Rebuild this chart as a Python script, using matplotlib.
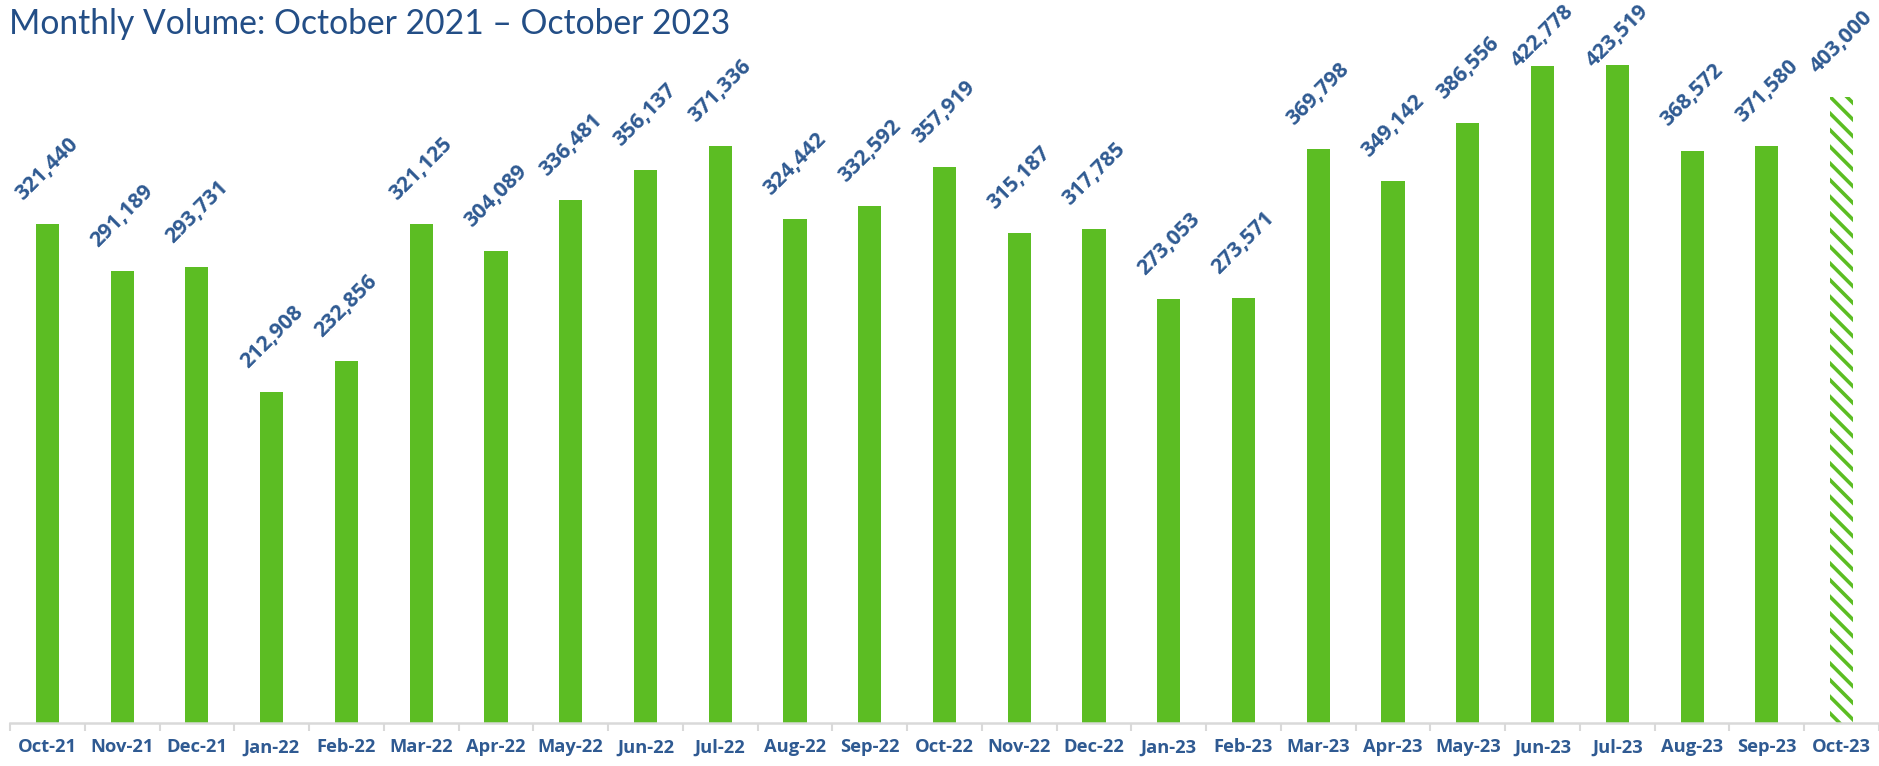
import matplotlib
matplotlib.use("Agg")
import matplotlib.pyplot as plt
import numpy as np

months = ["Oct-21", "Nov-21", "Dec-21", "Jan-22", "Feb-22", "Mar-22", "Apr-22", "May-22",
          "Jun-22", "Jul-22", "Aug-22", "Sep-22", "Oct-22", "Nov-22", "Dec-22", "Jan-23",
          "Feb-23", "Mar-23", "Apr-23", "May-23", "Jun-23", "Jul-23", "Aug-23", "Sep-23",
          "Oct-23"]
volumes = [321440, 291189, 293731, 212908, 232856, 321125, 304089, 336481, 356137, 371336,
           324442, 332592, 357919, 315187, 317785, 273053, 273571, 369798, 349142, 386556,
           422778, 423519, 368572, 371580, 403000]
projected = [False] * 24 + [True]
title = "Monthly Volume: October 2021 \u2013 October 2023"

GREEN = "#5CBD23"
LBLUE = "#2F5A92"
TBLUE = "#234E86"
W, H = 1879, 766

title_font = ["Lato"]
lab_font = ["Open Sans"]

plt.rcParams["hatch.linewidth"] = 2.6
fig = plt.figure(figsize=(W / 100, H / 100), dpi=100)
ax = fig.add_axes([10 / W, (H - 723) / H, (W - 10) / W, 723 / H])
renderer = fig.canvas.get_renderer()


def fit_size(text, target_px, **kw):
    t = fig.text(0, 0, text, fontsize=20, **kw)
    w = t.get_window_extent(renderer).width
    t.remove()
    return 20 * target_px / w


lab_fs = fit_size("371,580", 79, family=lab_font, fontweight="bold")
tick_fs = fit_size("Oct-21", 59, family=lab_font, fontweight="bold")

x = np.arange(len(months))
ax.set_xlim(-0.5, len(months) - 0.5)
ax.set_ylim(0, 465500)

for xi, v, p in zip(x, volumes, projected):
    if p:
        ax.bar(xi, v, width=0.31, color="white", edgecolor=GREEN, hatch="\\\\", linewidth=0)
    else:
        ax.bar(xi, v, width=0.31, color=GREEN, linewidth=0)
    top_px = H - ax.transData.transform((xi, v))[1]  # distance from figure top
    off_px = min(55, top_px - 36)
    ax.annotate(f"{v:,}", (xi, v), xytext=(0, off_px * 0.72), textcoords="offset points",
                rotation=45, ha="center", va="center", rotation_mode="anchor",
                fontsize=lab_fs, fontweight="bold", color=LBLUE, family=lab_font)

ax.set_xticks(np.arange(len(months) + 1) - 0.5, minor=False)
ax.set_xticklabels([])
ax.set_xticks(x, minor=True)
ax.set_xticklabels(months, minor=True, fontsize=tick_fs, fontweight="bold", color=LBLUE,
                   family=lab_font)
ax.tick_params(axis="x", which="major", length=6, width=1.5, color="#D9D9D9", direction="out")
ax.tick_params(axis="x", which="minor", length=0, pad=11)
ax.set_yticks([])
for s in ["top", "right", "left"]:
    ax.spines[s].set_visible(False)
ax.spines["bottom"].set_color("#D9D9D9")
ax.spines["bottom"].set_linewidth(1.8)

t_fs = fit_size(title, 721, family=title_font)
fig.text(9 / W, 1 - 24 / H, title, fontsize=t_fs, color=TBLUE, family=title_font,
         ha="left", va="center")

fig.savefig("out.png", dpi=100)
